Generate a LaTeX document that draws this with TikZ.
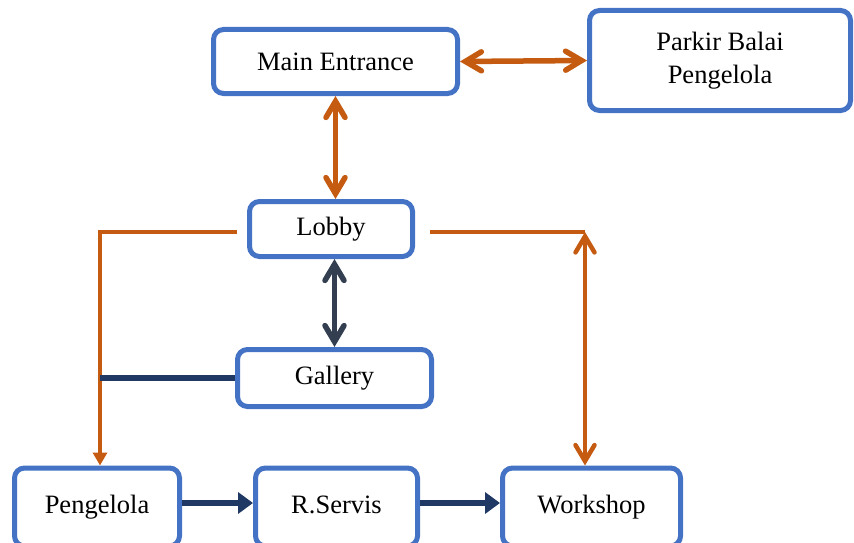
\documentclass[tikz,border=0pt]{standalone}
\usepackage{fontspec}
\setmainfont{Liberation Serif}
\usetikzlibrary{arrows.meta}
\definecolor{boxblue}{HTML}{4472C4}
\definecolor{orng}{HTML}{C55A11}
\definecolor{darkslate}{HTML}{333F50}
\definecolor{navy}{HTML}{1F3864}
\tikzset{
  box/.style={draw=boxblue, line width=5pt, rounded corners=10pt, fill=white,
    inner sep=0pt, align=center, font=\fontsize{26.5}{33}\selectfont},
  orangeline/.style={draw=orng, line width=5.5pt},
  barb/.tip={Straight Barb[length=16pt,width=19pt,line cap=round]},
  smalltri/.tip={Triangle[length=13pt,width=14pt]},
  navytri/.tip={Triangle[length=15pt,width=21pt]},
}
\begin{document}
\begin{tikzpicture}[x=1pt,y=-1pt]
\useasboundingbox (0,0) rectangle (854,543);
% boxes
\node[box, minimum width=244pt, minimum height=64pt] (main) at (335.5,61.5) {Main Entrance};
\node[box, minimum width=261pt, minimum height=100pt] (parkir) at (720,60.5) {Parkir Balai\\Pengelola};
\node[box, minimum width=163pt, minimum height=55pt] (lobby) at (331,229) {Lobby};
\node[box, minimum width=194pt, minimum height=57pt] (gallery) at (334.5,378) {Gallery};
\node[box, minimum width=165pt, minimum height=78pt] (peng) at (97,507) {\raisebox{5pt}{Pengelola}};
\node[box, minimum width=162pt, minimum height=78pt] (rservis) at (336.5,507) {\raisebox{5pt}{R.Servis}};
\node[box, minimum width=178pt, minimum height=78pt] (workshop) at (591.5,507) {\raisebox{5pt}{Workshop}};
% coordinates
\coordinate (lobbyL) at ([xshift=-10pt,yshift=-3pt]lobby.west);
\coordinate (lobbyR) at ([xshift=15pt,yshift=-3pt]lobby.east);
\coordinate (pengTop) at ([xshift=3pt]peng.north);
\coordinate (wsTop) at ([xshift=-6.5pt]workshop.north);
\coordinate (corner) at (wsTop |- lobbyR);
% connectors
\draw[orangeline, barb-barb] (main.east) -- (parkir.west);
\draw[orangeline, barb-barb] (main.south) -- (main.south |- lobby.north);
\draw[orangeline, line width=4.5pt, -smalltri] (lobbyL) -| (pengTop);
\draw[orangeline, line width=4.5pt] (lobbyR) -- (corner);
\draw[orangeline, line width=4.5pt, barb-barb] (corner) -- (wsTop);
\draw[draw=darkslate, line width=5.5pt, barb-barb] (gallery.north |- lobby.south) -- (gallery.north);
\draw[draw=navy, line width=5.5pt] (gallery.west) -- (pengTop |- gallery.west);
\draw[draw=navy, line width=6pt, -navytri] ([yshift=4pt]peng.east) -- ([yshift=4pt]rservis.west);
\draw[draw=navy, line width=6pt, -navytri] ([yshift=4pt]rservis.east) -- ([yshift=4pt]workshop.west);
\end{tikzpicture}
\end{document}
